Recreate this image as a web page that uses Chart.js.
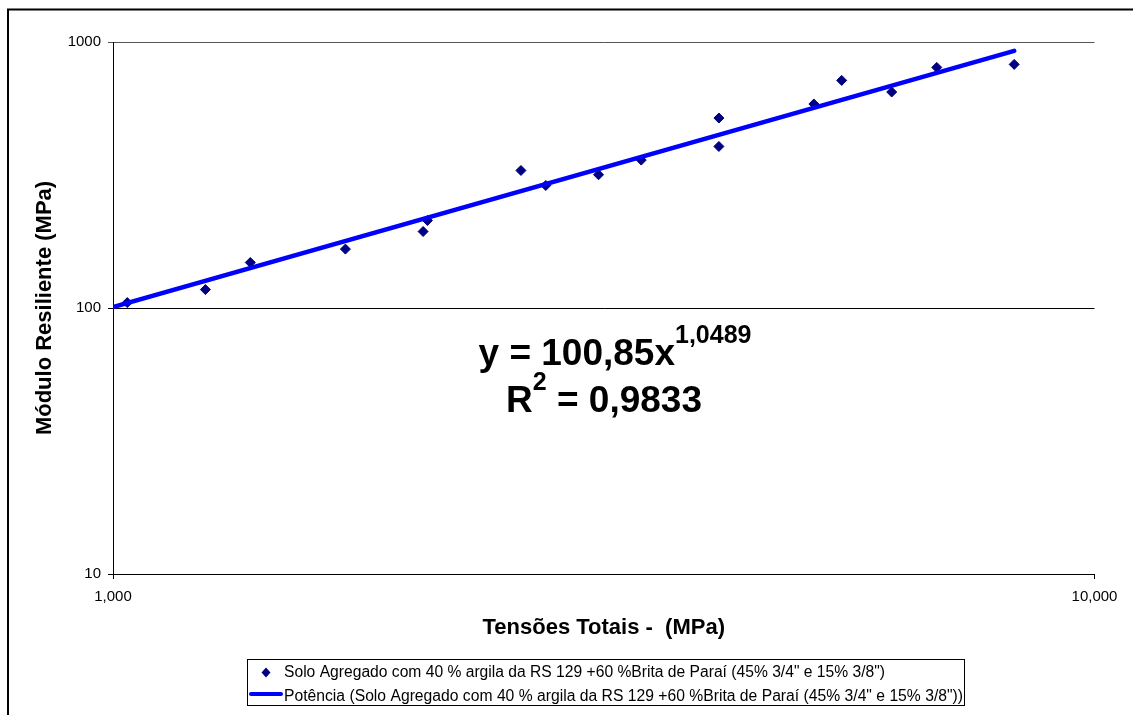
<!DOCTYPE html>
<html>
<head>
<meta charset="utf-8">
<title>Módulo Resiliente x Tensões Totais</title>
<script src="https://cdn.jsdelivr.net/npm/chart.js@4.4.1/dist/chart.umd.min.js"></script>
<style>
  html, body { margin: 0; padding: 0; background: #fff; }
  #wrap { width: 1133px; height: 715px; }
</style>
</head>
<body>
<div id="wrap"><canvas id="c" width="1133" height="715"></canvas></div>
<script>
// Ensaios: tensão total (MPa) e módulo resiliente (MPa)
const tensoes = [1.034, 1.242, 1.380, 1.725, 2.070, 2.091, 2.604, 2.760, 3.124, 3.453, 4.143, 4.143, 5.177, 5.526, 6.214, 6.907, 8.283];
const modulo  = [104.8, 117.3, 148.3, 166.5, 193.9, 213.3, 328.9, 288.7, 316.9, 359.8, 517.8, 404.9, 584.6, 717.3, 648.6, 802.5, 823.7];

// Linha de tendência potência: y = a * x^b
const fitCoef = 100.85;
const fitExp = 1.0489;
const fitR2 = 0.9833;

// Eixos
const xTicks = [1, 10];
const xTickLabels = ['1,000', '10,000'];
const yTicks = [10, 100, 1000];
const yTickLabels = ['10', '100', '1000'];

const xTitle = 'Tensões Totais -  (MPa)';
const yTitle = 'Módulo Resiliente (MPa)';
const seriesName = 'Solo Agregado com 40 % argila da RS 129 +60 %Brita de Paraí (45% 3/4" e 15% 3/8")';
const trendName = 'Potência (' + seriesName + ')';

const FONT = '"Liberation Sans", Arial, Helvetica, sans-serif';
const MARKER = '#000080';
const TREND = '#0000FF';

const points = tensoes.map((x, i) => ({ x: x, y: modulo[i] }));
const xEnd = Math.max(...tensoes);
const trend = [xTicks[0], xEnd].map(x => ({ x: x, y: fitCoef * Math.pow(x, fitExp) }));

const fmt = v => String(v).replace('.', ',');

// Moldura externa do gráfico
const frame = {
  id: 'frame',
  beforeDraw(chart) {
    const c = chart.ctx;
    c.save();
    c.fillStyle = '#fff';
    c.fillRect(0, 0, chart.width, chart.height);
    c.strokeStyle = '#000';
    c.lineWidth = 2;
    c.strokeRect(8, 9.5, chart.width + 20, chart.height + 20);
    c.restore();
  }
};

// Equação da linha de tendência e R²
const equation = {
  id: 'equation',
  afterDraw(chart) {
    const c = chart.ctx;
    c.save();
    c.fillStyle = '#000';
    c.textBaseline = 'alphabetic';
    const big = 'bold 37px ' + FONT;
    const small = 'bold 25px ' + FONT;

    const main1 = 'y = ' + fmt(fitCoef) + 'x';
    const sup1 = fmt(fitExp);
    c.font = big; const w1 = c.measureText(main1).width;
    c.font = small; const s1 = c.measureText(sup1).width;
    let x = 615 - (w1 + s1) / 2;
    c.font = big; c.fillText(main1, x, 365);
    c.font = small; c.fillText(sup1, x + w1, 343);

    const r = 'R';
    const sup2 = '2';
    const rest = ' = ' + fmt(fitR2);
    c.font = big; const wr = c.measureText(r).width; const wrest = c.measureText(rest).width;
    c.font = small; const s2 = c.measureText(sup2).width;
    x = 604 - (wr + s2 + wrest) / 2;
    c.font = big; c.fillText(r, x, 412);
    c.font = small; c.fillText(sup2, x + wr, 390);
    c.font = big; c.fillText(rest, x + wr + s2, 412);
    c.restore();
  }
};

// Legenda em caixa
const legendBox = {
  id: 'legendBox',
  afterDraw(chart) {
    const c = chart.ctx;
    const ds0 = chart.data.datasets[0];
    const ds1 = chart.data.datasets[1];
    c.save();
    c.strokeStyle = '#000';
    c.lineWidth = 1;
    c.strokeRect(247.5, 659.5, 717, 46);

    // marcador
    c.fillStyle = ds0.backgroundColor;
    c.beginPath();
    c.moveTo(266, 667.5); c.lineTo(270.5, 672.5); c.lineTo(266, 677.5); c.lineTo(261.5, 672.5);
    c.closePath(); c.fill();

    // linha
    c.strokeStyle = ds1.borderColor;
    c.lineWidth = 4;
    c.lineCap = 'round';
    c.beginPath(); c.moveTo(251, 694); c.lineTo(281, 694); c.stroke();

    c.fillStyle = '#000';
    c.textBaseline = 'middle';
    c.font = '16px ' + FONT;
    const fitText = (txt, x, y, target) => {
      const w = c.measureText(txt).width;
      c.save();
      c.translate(x, y);
      c.scale(target / w, 1);
      c.fillText(txt, 0, 0);
      c.restore();
    };
    fitText(ds0.label, 284, 673, 601);
    fitText(ds1.label, 284, 697, 679);
    c.restore();
  }
};

new Chart(document.getElementById('c'), {
  type: 'scatter',
  data: {
    datasets: [
      {
        label: seriesName,
        data: points,
        pointStyle: 'rectRot',
        pointRadius: 5,
        pointHoverRadius: 5,
        backgroundColor: MARKER,
        borderColor: MARKER,
        borderWidth: 1,
        order: 1
      },
      {
        label: trendName,
        type: 'line',
        data: trend,
        showLine: true,
        borderColor: TREND,
        backgroundColor: TREND,
        borderWidth: 4.5,
        borderCapStyle: 'round',
        pointRadius: 0,
        fill: false,
        order: 0
      }
    ]
  },
  options: {
    responsive: false,
    animation: false,
    events: [],
    layout: { padding: { left: 0, right: 38.5, top: 42, bottom: 0 } },
    plugins: { legend: { display: false }, tooltip: { enabled: false } },
    scales: {
      x: {
        type: 'logarithmic',
        position: 'bottom',
        min: xTicks[0],
        max: xTicks[xTicks.length - 1],
        afterBuildTicks: s => { s.ticks = xTicks.map(v => ({ value: v })); },
        afterFit: s => { s.height = 141; },
        ticks: {
          callback: v => xTickLabels[xTicks.indexOf(v)],
          font: { family: FONT, size: 15 },
          color: '#000',
          padding: 9,
          maxRotation: 0,
          autoSkip: false
        },
        grid: { drawOnChartArea: false, drawTicks: true, tickLength: 5, color: '#000' },
        border: { color: '#000', width: 1 },
        title: {
          display: true,
          text: xTitle,
          color: '#000',
          font: { family: FONT, size: 22, weight: 'bold' },
          padding: { top: 0, bottom: 74 }
        }
      },
      y: {
        type: 'logarithmic',
        position: 'left',
        min: yTicks[0],
        max: yTicks[yTicks.length - 1],
        afterBuildTicks: s => { s.ticks = yTicks.map(v => ({ value: v })); },
        afterFit: s => { s.width = 113; },
        ticks: {
          callback: v => yTickLabels[yTicks.indexOf(v)],
          font: { family: FONT, size: 15 },
          color: '#000',
          padding: 7
        },
        grid: {
          color: c => (c.tick && c.tick.value === 1000 ? '#555' : '#000'),
          tickLength: 5,
          lineWidth: 1
        },
        border: { color: '#000', width: 1 },
        title: {
          display: true,
          text: yTitle,
          color: '#000',
          font: { family: FONT, size: 22, weight: 'bold' },
          padding: { top: 32, bottom: 0 }
        }
      }
    }
  },
  plugins: [frame, equation, legendBox]
});
</script>
</body>
</html>
